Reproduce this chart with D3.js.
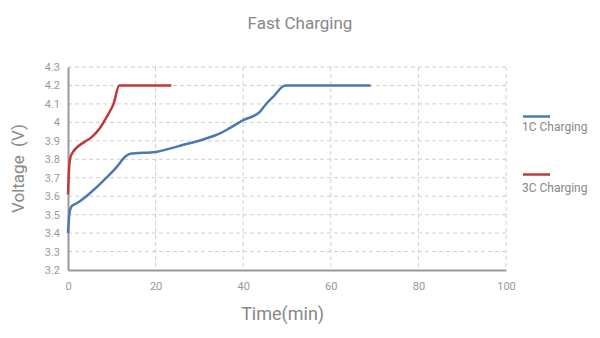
<!DOCTYPE html>
<html>
<head>
<meta charset="utf-8">
<script src="https://cdn.jsdelivr.net/npm/d3@7"></script>
<style>
    body { margin: 0; background: #fff; }
    text { font-family: Roboto, "Noto Sans", sans-serif; }
</style>
</head>
<body>
<svg id="chart" width="600" height="338"></svg>
<script>
// 1C charging curve (time in min, voltage in V)
var oneCTime = [0, 0.3, 0.8, 1.9, 4.2, 8.8, 11.2, 13.1, 14.2, 20, 25.8, 31.2, 34.7, 37.0, 40, 43.8, 45, 46.9, 49.6, 69.1];
var oneCVolt = [3.40, 3.50, 3.545, 3.56, 3.60, 3.70, 3.76, 3.815, 3.83, 3.84, 3.875, 3.91, 3.94, 3.97, 4.012, 4.057, 4.093, 4.14, 4.20, 4.20];

// 3C charging curve
var threeCTime = [0, 0.23, 0.54, 1.15, 2.3, 3.85, 5.4, 7.3, 8.85, 10.4, 11.7, 23.6];
var threeCVolt = [3.61, 3.74, 3.81, 3.84, 3.87, 3.895, 3.92, 3.97, 4.03, 4.10, 4.20, 4.20];

var xTicks = [0, 20, 40, 60, 80, 100];
var yTicks = [3.2, 3.3, 3.4, 3.5, 3.6, 3.7, 3.8, 3.9, 4, 4.1, 4.2, 4.3];

var seriesNames = ["1C Charging", "3C Charging"];
var seriesColors = ["#4a79b6", "#c0393d"];

function toPoints(xs, ys) {
    return xs.map(function (x, i) {
        return { x: x, y: ys[i] };
    });
}

function drawChart() {
    var graph = d3.select("#chart"),
        margins = { top: 67, right: 94, bottom: 68, left: 68 },
        width = 600,
        height = 338,
        xRange = d3.scaleLinear().domain([0, 100]).range([margins.left, width - margins.right]),
        yRange = d3.scaleLinear().domain([3.2, 4.3]).range([height - margins.bottom, margins.top]);

    var tickColor = "#999";

    // horizontal dashed grid
    graph.append("g")
        .selectAll("line")
        .data(yTicks.slice(1))
        .enter().append("line")
        .attr("x1", xRange(0))
        .attr("x2", xRange(100))
        .attr("y1", function (d) { return yRange(d); })
        .attr("y2", function (d) { return yRange(d); })
        .attr("stroke", "#cfcfcf")
        .attr("stroke-width", 1)
        .attr("stroke-dasharray", "4,3");

    // vertical dashed grid
    graph.append("g")
        .selectAll("line")
        .data(xTicks.slice(1))
        .enter().append("line")
        .attr("x1", function (d) { return xRange(d); })
        .attr("x2", function (d) { return xRange(d); })
        .attr("y1", yRange(4.3))
        .attr("y2", yRange(3.2))
        .attr("stroke", "#cfcfcf")
        .attr("stroke-width", 1)
        .attr("stroke-dasharray", "4,3");

    var xAxis = d3.axisBottom(xRange).tickValues(xTicks).tickSize(0).tickPadding(12),
        yAxis = d3.axisLeft(yRange).tickValues(yTicks).tickSize(0).tickPadding(8)
            .tickFormat(function (d) { return String(d); });

    var gx = graph.append("g")
        .attr("transform", "translate(0," + yRange(3.2) + ")")
        .call(xAxis);
    gx.select(".domain").attr("stroke", tickColor).attr("stroke-width", 2);
    gx.selectAll("text").attr("fill", tickColor).attr("font-size", 11);

    var gy = graph.append("g")
        .attr("transform", "translate(" + xRange(0) + ",0)")
        .call(yAxis);
    gy.select(".domain").attr("stroke", tickColor).attr("stroke-width", 2);
    gy.selectAll("text").attr("fill", tickColor).attr("font-size", 11);

    var lineFunc = d3.line()
        .x(function (d) { return xRange(d.x); })
        .y(function (d) { return yRange(d.y); })
        .curve(d3.curveMonotoneX);

    var series = [toPoints(oneCTime, oneCVolt), toPoints(threeCTime, threeCVolt)];

    series.forEach(function (pts, i) {
        graph.append("path")
            .attr("d", lineFunc(pts))
            .attr("stroke", seriesColors[i])
            .attr("stroke-width", 2.5)
            .attr("fill", "none");
    });

    // legend
    var legendY = [116.5, 174.5];
    seriesNames.forEach(function (name, i) {
        graph.append("line")
            .attr("x1", 523).attr("x2", 550)
            .attr("y1", legendY[i]).attr("y2", legendY[i])
            .attr("stroke", seriesColors[i])
            .attr("stroke-width", 2.5);
        graph.append("text")
            .attr("x", 522)
            .attr("y", legendY[i] + 14.5 + i * 3)
            .attr("fill", "#888")
            .attr("font-size", 12)
            .text(name);
    });

    // titles
    graph.append("text")
        .attr("x", 300).attr("y", 29)
        .attr("text-anchor", "middle")
        .attr("fill", "#888")
        .attr("font-size", 17)
        .text("Fast Charging");

    graph.append("text")
        .attr("x", xRange(49)).attr("y", 320)
        .attr("text-anchor", "middle")
        .attr("fill", "#888")
        .attr("font-size", 18)
        .text("Time(min)");

    graph.append("text")
        .attr("transform", "translate(24," + yRange(3.75) + ") rotate(-90)")
        .attr("text-anchor", "middle")
        .attr("fill", "#888")
        .attr("font-size", 17)
        .attr("xml:space", "preserve")
        .style("white-space", "pre")
        .text("Voltage  (V)");
}

drawChart();
</script>
</body>
</html>
